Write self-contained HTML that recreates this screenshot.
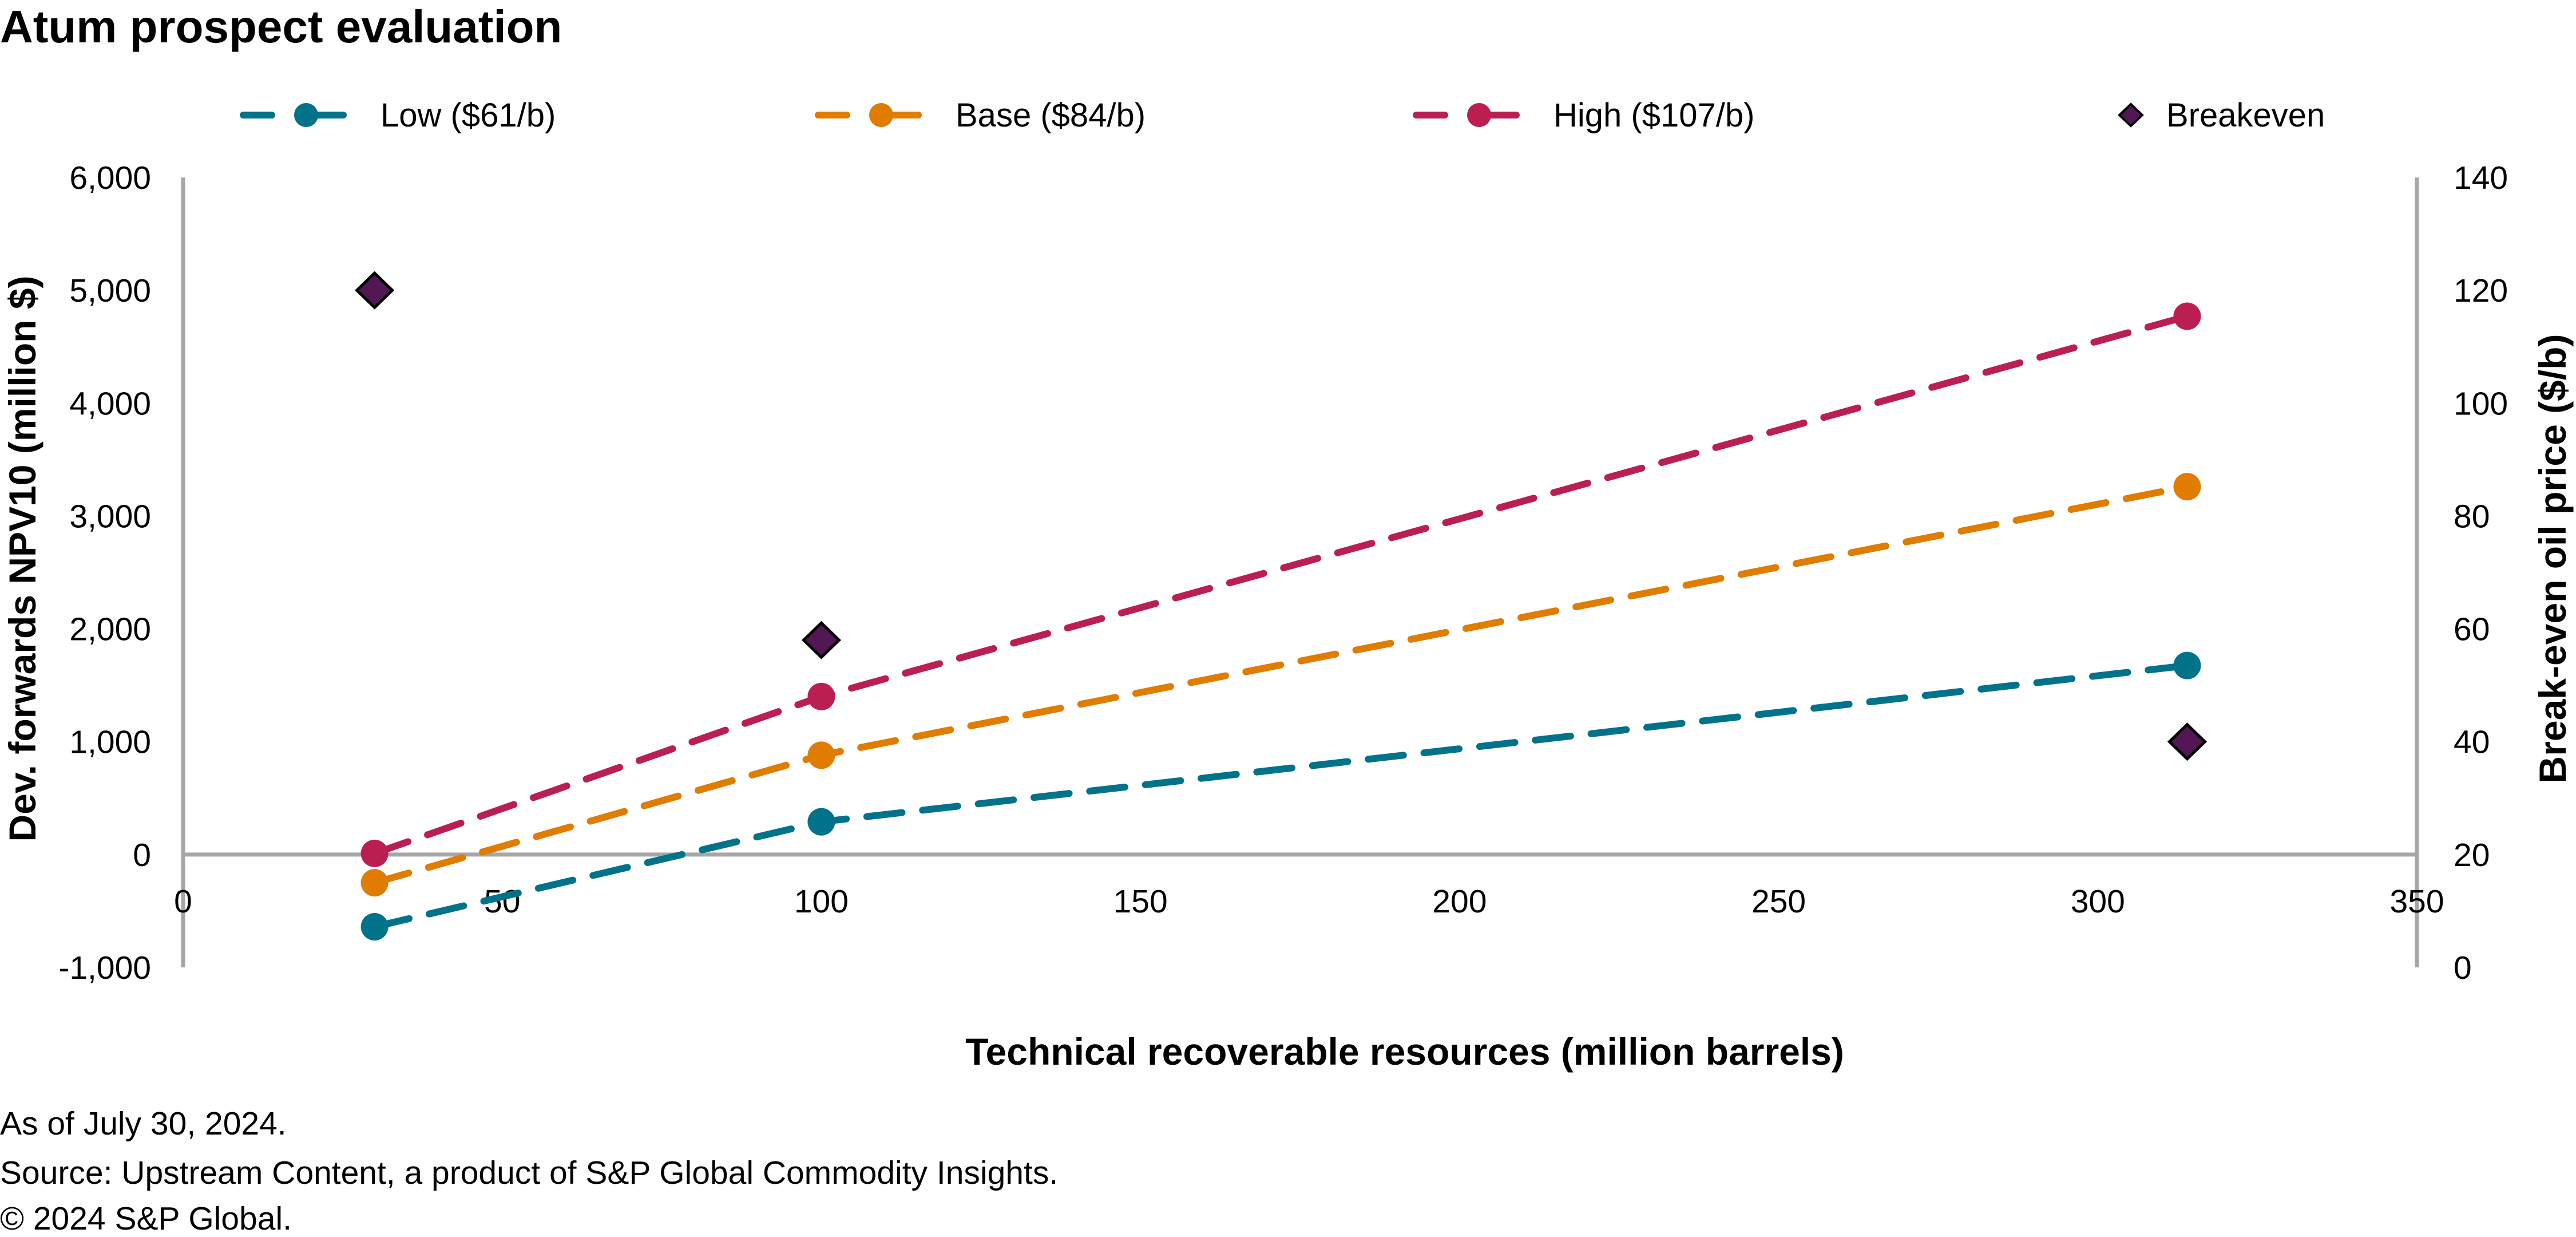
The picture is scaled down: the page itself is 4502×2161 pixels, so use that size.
<!DOCTYPE html>
<html><head><meta charset="utf-8"><style>
html,body{margin:0;padding:0;background:#fff;}
svg{display:block;font-family:"Liberation Sans",sans-serif;}
</style></head><body>
<svg id="chart" width="4502" height="2161" viewBox="0 0 4502 2161" xmlns="http://www.w3.org/2000/svg">
<text x="0" y="74" font-size="80" font-weight="bold">Atum prospect evaluation</text>
<g id="legend"></g>
<g id="axes"></g>
<g id="marks"></g>
<text x="2455" y="1860" font-size="66" font-weight="bold" text-anchor="middle">Technical recoverable resources (million barrels)</text>
<text transform="translate(62,976) rotate(-90)" font-size="66" font-weight="bold" text-anchor="middle" font-family="'Liberation Sans Narrow','Liberation Sans',sans-serif">Dev. forwards NPV10 (million $)</text>
<text transform="translate(4484,976) rotate(-90)" font-size="66" font-weight="bold" text-anchor="middle" font-family="'Liberation Sans Narrow','Liberation Sans',sans-serif">Break-even oil price ($/b)</text>
<text x="0" y="1982" font-size="57">As of July 30, 2024.</text>
<text x="0" y="2068" font-size="57">Source: Upstream Content, a product of S&amp;P Global Commodity Insights.</text>
<text x="0" y="2148" font-size="57">© 2024 S&amp;P Global.</text>
</svg>
<script>
const xValues = [30, 100, 314];
const lowValues = [-640, 290, 1675];
const baseValues = [-250, 880, 3260];
const highValues = [10, 1400, 4770];
const breakevenValues = [120, 58, 40];
const leftTicks = [-1000, 0, 1000, 2000, 3000, 4000, 5000, 6000];
const leftTickLabels = ["-1,000","0","1,000","2,000","3,000","4,000","5,000","6,000"];
const rightTicks = [0, 20, 40, 60, 80, 100, 120, 140];
const xTicks = [0, 50, 100, 150, 200, 250, 300, 350];
const seriesNames = ["Low ($61/b)", "Base ($84/b)", "High ($107/b)"];

const NS = "http://www.w3.org/2000/svg";
const X0 = 320, X1 = 4224, YT = 310, YB = 1690;
function xs(v){ return X0 + (v - 0) / 350 * (X1 - X0); }
function yl(v){ return YB - (v + 1000) / 7000 * (YB - YT); }
function yr(v){ return YB - v / 140 * (YB - YT); }
function mk(tag, attrs, parent){ const e = document.createElementNS(NS, tag); for (const k in attrs) e.setAttribute(k, attrs[k]); parent.appendChild(e); return e; }

const axes = document.getElementById('axes');
const marks = document.getElementById('marks');
const legend = document.getElementById('legend');

let e;
e = mk('line', {x1:X0, y1:YT, x2:X0, y2:YB, stroke:'#a6a6a6', 'stroke-width':7}, axes);


e = mk('line', {x1:X1, y1:YT, x2:X1, y2:YB, stroke:'#a6a6a6', 'stroke-width':7}, axes);


e = mk('line', {x1:X0, y1:yl(0), x2:X1, y2:yl(0), stroke:'#a6a6a6', 'stroke-width':7}, axes);



leftTicks.forEach((t, i) => {
  const tx = mk('text', {x:264, y:yl(t)+20, 'font-size':57, 'text-anchor':'end'}, axes);
  tx.textContent = leftTickLabels[i];
  
  
});
rightTicks.forEach(t => {
  const tx = mk('text', {x:4288, y:yr(t)+20, 'font-size':57}, axes);
  tx.textContent = String(t);
  
  
});
xTicks.forEach(t => {
  const tx = mk('text', {x:xs(t), y:1594, 'font-size':57, 'text-anchor':'middle'}, axes);
  tx.textContent = String(t);
  
  
});

const colors = ['#00728a', '#e07c00', '#bb1f51'];
const seriesData = [lowValues, baseValues, highValues];
const keys = ['low', 'base', 'high'];
seriesData.forEach((vals, s) => {
  const pts = vals.map((v, i) => xs(xValues[i]) + ',' + yl(v)).join(' ');
  const pl = mk('polyline', {points:pts, fill:'none', stroke:colors[s], 'stroke-width':12, 'stroke-dasharray':'62 36', 'stroke-linecap':'round'}, marks);
  
  
  vals.forEach((v, i) => {
    const c = mk('circle', {cx:xs(xValues[i]), cy:yl(v), r:24, fill:colors[s]}, marks);
    
    
  });
});
breakevenValues.forEach((v, i) => {
  const cx = xs(xValues[i]), cy = yr(v), d = 31, h = 30;
  const p = mk('polygon', {points:`${cx},${cy-h} ${cx+d},${cy} ${cx},${cy+h} ${cx-d},${cy}`, fill:'#521754', stroke:'#000', 'stroke-width':5}, marks);
  
  
});

const legX = [425, 1430, 2475];
seriesNames.forEach((n, s) => {
  const g = mk('g', {}, legend);
  
  
  mk('line', {x1:legX[s], y1:201, x2:legX[s]+50, y2:201, stroke:colors[s], 'stroke-width':12, 'stroke-linecap':'round'}, g);
  mk('line', {x1:legX[s]+110, y1:201, x2:legX[s]+175, y2:201, stroke:colors[s], 'stroke-width':12, 'stroke-linecap':'round'}, g);
  mk('circle', {cx:legX[s]+110, cy:201, r:21, fill:colors[s]}, g);
  const t = mk('text', {x:legX[s]+240, y:221, 'font-size':58}, g);
  t.textContent = n;
});
{
  const g = mk('g', {}, legend);
  
  
  const cx = 3724, cy = 201;
  mk('polygon', {points:`${cx},${cy-19} ${cx+20},${cy} ${cx},${cy+19} ${cx-20},${cy}`, fill:'#521754', stroke:'#000', 'stroke-width':4}, g);
  const t = mk('text', {x:3786, y:221, 'font-size':58}, g);
  t.textContent = 'Breakeven';
}
</script>
</body></html>
